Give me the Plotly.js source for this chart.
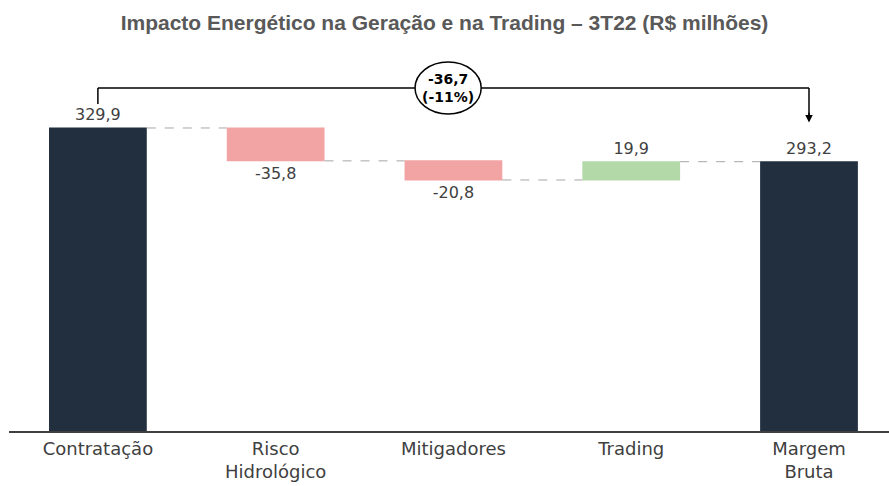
<!DOCTYPE html>
<html>
<head>
<meta charset="utf-8">
<script src="https://cdn.plot.ly/plotly-3.0.1.min.js"></script>
<style>html,body{margin:0;padding:0;background:#fff;}#chart{width:889px;height:486px;}</style>
</head>
<body>
<div id="chart"></div>
<script>
const categories = ["Contratação", "Risco<br>Hidrológico", "Mitigadores", "Trading", "Margem<br>Bruta"];
const values = [329.9, -35.8, -20.8, 19.9, 293.2];
const measures = ["absolute", "relative", "relative", "relative", "total"];
const deltaLabel = "-36,7";
const deltaPct = "(-11%)";

const fmt = v => v.toFixed(1).replace('.', ',');
const labelFont = "DejaVu Sans, Lato, sans-serif";

const trace = {
  type: "waterfall",
  x: categories,
  y: values,
  measure: measures,
  text: values.map(fmt),
  textposition: "outside",
  textfont: {family: labelFont, size: 16, color: "#404040"},
  cliponaxis: false,
  increasing: {marker: {color: "#B3D9A9"}},
  decreasing: {marker: {color: "#F2A3A3"}},
  totals: {marker: {color: "#222F3F"}},
  connector: {mode: "between", line: {color: "#A6A6A6", width: 1, dash: "dash"}},
  hoverinfo: "none"
};

const yTop = 373.4, yLeftEnd = 356, yArrow = 336;

const layout = {
  width: 889, height: 486,
  margin: {l: 9, r: 0, t: 40, b: 55},
  paper_bgcolor: "#fff", plot_bgcolor: "#fff",
  separators: ", ",
  showlegend: false,
  waterfallgap: 0.45,
  title: {
    text: "<b>Impacto Energético na Geração e na Trading – 3T22 (R$ milhões)</b>",
    font: {family: "Liberation Sans, Arial, sans-serif", size: 21, color: "#595959"},
    x: 0.5, xanchor: "center", y: 1 - 23/486, yanchor: "middle", yref: "container"
  },
  xaxis: {
    type: "category",
    range: [-0.5, 4.45],
    showline: true, linecolor: "#404040", linewidth: 2,
    ticks: "", showgrid: false, zeroline: false,
    tickfont: {family: labelFont, size: 18, color: "#404040"}
  },
  yaxis: {
    range: [0, 425.7],
    visible: false, showgrid: false, zeroline: false
  },
  shapes: [
    {type: "line", xref: "x", yref: "y", x0: 0, x1: 0, y0: yLeftEnd, y1: yTop, line: {color: "#000", width: 1.5}},
    {type: "line", xref: "x", yref: "y", x0: 0, x1: 4, y0: yTop, y1: yTop, line: {color: "#000", width: 1.5}},
    {type: "line", xref: "x", yref: "y", x0: 4, x1: 4, y0: yTop, y1: yArrow + 6, line: {color: "#000", width: 1.5}},
    {type: "circle", xref: "x", yref: "y", x0: 1.97 - 0.186, x1: 1.97 + 0.186, y0: yTop - 28.3, y1: yTop + 28.3,
     fillcolor: "#fff", line: {color: "#000", width: 1.5}}
  ],
  annotations: [
    {xref: "x", yref: "y", x: 1.97, y: yTop, text: "<b>" + deltaLabel + "<br>" + deltaPct + "</b>",
     showarrow: false, font: {family: labelFont, size: 14, color: "#000"}, align: "center"},
    {xref: "x", yref: "y", x: 4, y: yArrow, axref: "x", ayref: "y", ax: 4, ay: yArrow + 12,
     text: "", showarrow: true, arrowhead: 2, arrowsize: 1, arrowwidth: 1.5, arrowcolor: "#000"}
  ]
};

Plotly.newPlot("chart", [trace], layout, {displayModeBar: false, staticPlot: true});
</script>
</body>
</html>
